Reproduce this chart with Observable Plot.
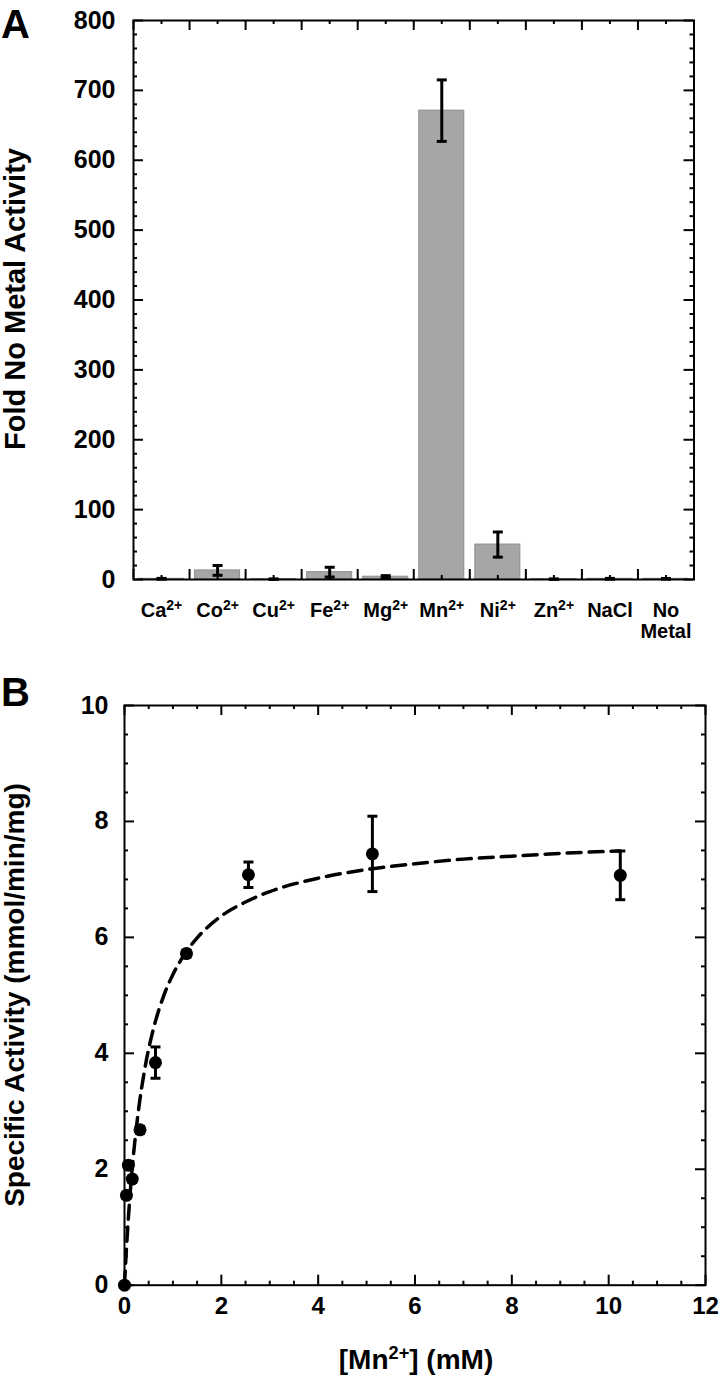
<!DOCTYPE html>
<html><head><meta charset="utf-8">
<script src="https://cdn.jsdelivr.net/npm/d3@7"></script>
<script src="https://cdn.jsdelivr.net/npm/@observablehq/plot@0.6"></script>
<style>
body{margin:0;background:#fff;}
#wrap{position:relative;width:720px;height:1378px;font-family:"Liberation Sans",Arial,Helvetica,sans-serif;font-weight:bold;color:#000;overflow:hidden;}
#wrap svg{display:block;}
.lbl{position:absolute;white-space:nowrap;font-weight:bold;line-height:1;}
.rot{transform:translate(-50%,-50%) rotate(-90deg);}
.sup{font-size:0.65em;position:relative;top:-0.55em;line-height:0;}
</style></head><body><div id="wrap"></div>
<script>
// ---------- Panel A data ----------
const metals = ["Ca2+","Co2+","Cu2+","Fe2+","Mg2+","Mn2+","Ni2+","Zn2+","NaCl","No\nMetal"];
const foldActivity = [1, 13, 0.5, 10.5, 4, 671, 50, 0.5, 1, 1];
const foldError = [0.6, 7, 0.3, 7, 1.5, 44, 18, 0.3, 0.6, 0.5];
const foldTicks = [0, 100, 200, 300, 400, 500, 600, 700, 800];

// ---------- Panel B data ----------
const mnConc = [0, 0.04, 0.08, 0.16, 0.32, 0.64, 1.28, 2.56, 5.12, 10.24];
const specActivity = [0, 1.55, 2.07, 1.83, 2.68, 3.84, 5.72, 7.08, 7.44, 7.07];
const specError = [0, 0.05, 0.05, 0.05, 0.06, 0.27, 0.06, 0.22, 0.65, 0.42];
const fitX = [0, 0.02, 0.05, 0.1, 0.15, 0.2, 0.3, 0.4, 0.5, 0.6, 0.8, 1.0, 1.25, 1.5, 2, 2.5, 3, 4, 5, 6, 7, 8, 9, 10.24];
const fitY = [0, 0.33, 0.77, 1.40, 1.93, 2.37, 3.09, 3.64, 4.08, 4.43, 4.97, 5.36, 5.72, 5.99, 6.37, 6.61, 6.79, 7.02, 7.17, 7.27, 7.35, 7.40, 7.45, 7.49];
const activityTicks = [0, 2, 4, 6, 8, 10];
const concTicks = [0, 2, 4, 6, 8, 10, 12];

const FONT = "Liberation Sans, Arial, Helvetica, sans-serif";
const wrap = document.getElementById("wrap");

// horizontal cap symbol (error bar caps)
const capSymbol = {draw(ctx, size){const r = Math.sqrt(size/Math.PI); ctx.moveTo(-r,0); ctx.lineTo(r,0);}};

// ---------- Panel A ----------
const A = {w:720, h:660, mt:20, mb:81, ml:133, mr:26.5};
const AW = A.w - A.ml - A.mr, AH = A.h - A.mt - A.mb;
const bars = metals.map((m,i)=>({i, name:m, v:foldActivity[i], e:foldError[i]}));
const catEdges = d3.range(0, metals.length + 1);
const catCenters = d3.range(0, metals.length).map(i => i + 0.5);
const foldMinor = d3.range(0, 801, 20).filter(v => v % 100 !== 0);

const plotA = Plot.plot({
  width: A.w, height: A.h,
  marginTop: A.mt, marginBottom: A.mb, marginLeft: A.ml, marginRight: A.mr,
  x: {type: "linear", domain: [0, metals.length]},
  y: {domain: [0, 800]},
  style: {fontFamily: FONT, fontWeight: "bold", color: "black", background: "white"},
  marks: [
    Plot.rectY(bars, {x1: d => d.i, x2: d => d.i + 1, y1: 0, y2: d => d.v, insetLeft: 5.5, insetRight: 5.5, fill: "#a6a6a6", stroke: "#8e8e8e", strokeWidth: 1}),
    Plot.ruleX(bars, {x: d => d.i + 0.5, y1: d => d.v - d.e, y2: d => d.v + d.e, stroke: "black", strokeWidth: 3}),
    Plot.dot(bars, {x: d => d.i + 0.5, y: d => d.v + d.e, symbol: capSymbol, r: 5, stroke: "black", strokeWidth: 3, fill: "none"}),
    Plot.dot(bars, {x: d => d.i + 0.5, y: d => d.v - d.e, symbol: capSymbol, r: 5, stroke: "black", strokeWidth: 3, fill: "none"}),
    // inward ticks, left/right
    Plot.tickY(foldTicks, {y: d => d, insetRight: AW - 10, strokeWidth: 2}),
    Plot.tickY(foldTicks, {y: d => d, insetLeft: AW - 10, strokeWidth: 2}),
    Plot.tickY(foldMinor, {y: d => d, insetRight: AW - 4, strokeWidth: 2}),
    Plot.tickY(foldMinor, {y: d => d, insetLeft: AW - 4, strokeWidth: 2}),
    // inward ticks, top/bottom
    Plot.tickX(catEdges, {x: d => d, insetBottom: AH - 10, strokeWidth: 2}),
    Plot.tickX(catEdges, {x: d => d, insetTop: AH - 10, strokeWidth: 2}),
    Plot.tickX(catCenters, {x: d => d, insetBottom: AH - 4, strokeWidth: 2}),
    Plot.tickX(catCenters, {x: d => d, insetTop: AH - 4, strokeWidth: 2}),
    Plot.frame({stroke: "black", strokeWidth: 2}),
    Plot.axisY(foldTicks, {tickSize: 0, tickPadding: 18, fontSize: 25, fontWeight: "bold", label: null, tickFormat: d => String(d)}),
    Plot.axisX(catCenters, {tickSize: 0, tickPadding: 23, fontSize: 20, fontWeight: "bold", label: null, lineHeight: 1.05, tickFormat: d => metals[Math.floor(d)]})
  ]
});
wrap.appendChild(plotA);

// superscripts for the charge labels
d3.select(plotA).selectAll('g[aria-label="x-axis tick label"] text').each(function(){
  const t = this.textContent;
  const m = t.match(/^(.*?)(2\+)$/);
  if (!m) return;
  const sel = d3.select(this);
  sel.text(null);
  sel.append("tspan").text(m[1]);
  sel.append("tspan").attr("dy", "-0.5em").attr("font-size", "0.7em").text(m[2]);
});

// ---------- Panel B ----------
const B = {w:720, h:718, mt:45, mb:93.3, ml:124, mr:15};
const BW = B.w - B.ml - B.mr, BH = B.h - B.mt - B.mb;
const pts = mnConc.map((x,i)=>({x, y: specActivity[i], e: specError[i]}));
const errPts = pts.filter(d => d.e > 0);
const fit = fitX.map((x,i)=>({x, y: fitY[i]}));
const actMinor = d3.range(0, 10.01, 0.5).filter(v => v % 2 !== 0);
const concMinor = d3.range(0, 12.01, 0.5).filter(v => v % 2 !== 0);

const plotB = Plot.plot({
  width: B.w, height: B.h,
  marginTop: B.mt, marginBottom: B.mb, marginLeft: B.ml, marginRight: B.mr,
  x: {domain: [0, 12]},
  y: {domain: [0, 10]},
  style: {fontFamily: FONT, fontWeight: "bold", color: "black", background: "white"},
  marks: [
    Plot.tickY(activityTicks, {y: d => d, insetRight: BW - 10, strokeWidth: 2}),
    Plot.tickY(activityTicks, {y: d => d, insetLeft: BW - 10, strokeWidth: 2}),
    Plot.tickY(actMinor, {y: d => d, insetRight: BW - 4, strokeWidth: 2}),
    Plot.tickY(actMinor, {y: d => d, insetLeft: BW - 4, strokeWidth: 2}),
    Plot.tickX(concTicks, {x: d => d, insetBottom: BH - 10, strokeWidth: 2}),
    Plot.tickX(concTicks, {x: d => d, insetTop: BH - 10, strokeWidth: 2}),
    Plot.tickX(concMinor, {x: d => d, insetBottom: BH - 4, strokeWidth: 2}),
    Plot.tickX(concMinor, {x: d => d, insetTop: BH - 4, strokeWidth: 2}),
    Plot.frame({stroke: "black", strokeWidth: 2}),
    Plot.line(fit, {x: "x", y: "y", curve: "monotone-x", stroke: "black", strokeWidth: 3.5, strokeDasharray: "14,8"}),
    Plot.ruleX(errPts, {x: "x", y1: d => d.y - d.e, y2: d => d.y + d.e, stroke: "black", strokeWidth: 3}),
    Plot.dot(errPts, {x: "x", y: d => d.y + d.e, symbol: capSymbol, r: 5, stroke: "black", strokeWidth: 3, fill: "none"}),
    Plot.dot(errPts, {x: "x", y: d => d.y - d.e, symbol: capSymbol, r: 5, stroke: "black", strokeWidth: 3, fill: "none"}),
    Plot.dot(pts, {x: "x", y: "y", r: 6.5, fill: "black", stroke: "none"}),
    Plot.axisY(activityTicks, {tickSize: 0, tickPadding: 16, fontSize: 25, fontWeight: "bold", label: null, tickFormat: d => String(d)}),
    Plot.axisX(concTicks, {tickSize: 0, tickPadding: 12, fontSize: 24, fontWeight: "bold", label: null, tickFormat: d => String(d)})
  ]
});
wrap.appendChild(plotB);

// ---------- titles & panel letters ----------
function addLabel(html, css, cls){
  const d = document.createElement("div");
  d.className = "lbl " + (cls || "");
  d.innerHTML = html;
  Object.assign(d.style, css);
  wrap.appendChild(d);
}
addLabel("A", {left: "1px", top: "4px", fontSize: "40px"});
addLabel("B", {left: "1px", top: "672px", fontSize: "40px"});
addLabel("Fold No Metal Activity", {left: "15px", top: "299px", fontSize: "29px"}, "rot");
addLabel("Specific Activity (mmol/min/mg)", {left: "15px", top: "995px", fontSize: "28px"}, "rot");
addLabel('[Mn<span class="sup">2+</span>] (mM)', {left: "416px", top: "1346px", fontSize: "28px", transform: "translateX(-50%)"});
</script>
</body></html>
